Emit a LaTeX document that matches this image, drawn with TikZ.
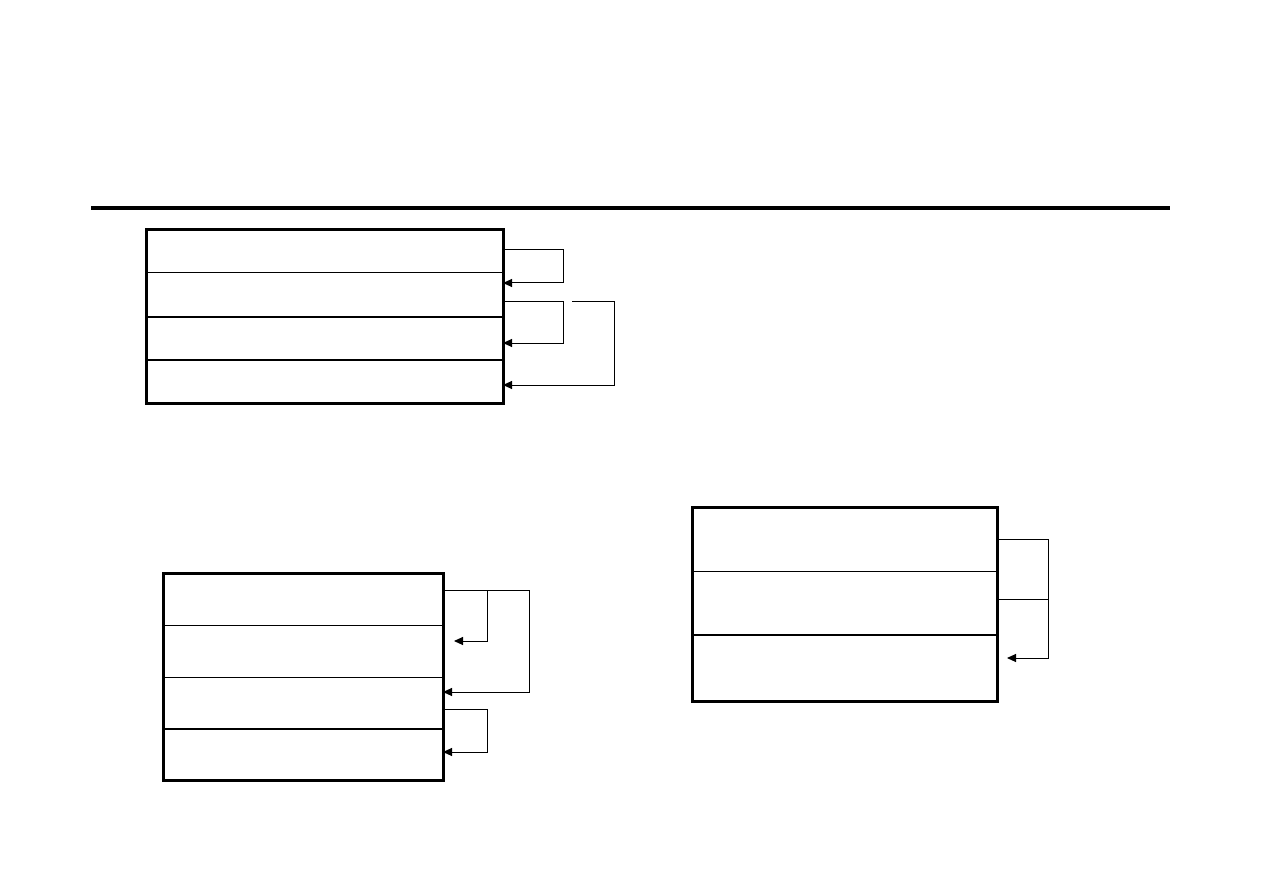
\documentclass[tikz,border=0pt]{standalone}
\usetikzlibrary{arrows.meta}
\begin{document}
\begin{tikzpicture}[x=1pt,y=-1pt,
  frame/.style={line width=3pt},
  thinrule/.style={line width=1pt},
  midrule/.style={line width=2pt},
  link/.style={line width=1pt},
  arr/.style={link,-{Triangle[length=9pt,width=8pt]}},
  row/.style={inner sep=0pt,outer sep=0pt,anchor=north west}]
\useasboundingbox (0,0) rectangle (1263,893);
% top rule
\draw[line width=4pt] (91,208) -- (1170,208);

% ---------- box A ----------
\node[row,minimum width=357pt,minimum height=43pt] (a1) at (146,230) {};
\node[row,minimum width=357pt,minimum height=44pt] (a2) at (146,273) {};
\node[row,minimum width=357pt,minimum height=43pt] (a3) at (146,317) {};
\node[row,minimum width=357pt,minimum height=43pt] (a4) at (146,360) {};
\draw[thinrule] (a1.south west) -- (a1.south east);
\draw[midrule] (a2.south west) -- (a2.south east);
\draw[midrule] (a3.south west) -- (a3.south east);
\draw[frame] (a1.north west) rectangle (a4.south east);
\coordinate (aS1) at (503,250);
\coordinate (aE1) at (503,283);
\coordinate (aS2) at (503,301);
\coordinate (aE2) at (503,343);
\coordinate (aS3) at (572,301);
\coordinate (aE3) at (503,385);
\draw[arr] (aS1) -- (563,250) -- (563,283) -- (aE1);
\draw[arr] (aS2) -- (563,301) -- (563,343) -- (aE2);
\draw[arr] (aS3) -- (614,301) -- (614,385) -- (aE3);

% ---------- box B ----------
\node[row,minimum width=280pt,minimum height=52pt] (b1) at (163,573) {};
\node[row,minimum width=280pt,minimum height=52pt] (b2) at (163,625) {};
\node[row,minimum width=280pt,minimum height=52pt] (b3) at (163,677) {};
\node[row,minimum width=280pt,minimum height=51pt] (b4) at (163,729) {};
\draw[thinrule] (b1.south west) -- (b1.south east);
\draw[thinrule] (b2.south west) -- (b2.south east);
\draw[midrule] (b3.south west) -- (b3.south east);
\draw[frame] (b1.north west) rectangle (b4.south east);
\coordinate (bS1) at (443,590);
\coordinate (bBr) at (487,590);
\coordinate (bE1) at (454,641);
\coordinate (bE2) at (443,692);
\coordinate (bS3) at (443,709);
\coordinate (bE3) at (443,752);
\draw[link] (bS1) -- (529,590);
\draw[arr] (bBr) -- (487,641) -- (bE1);
\draw[arr] (529,590) -- (529,692) -- (bE2);
\draw[arr] (bS3) -- (487,709) -- (487,752) -- (bE3);

% ---------- box C ----------
\node[row,minimum width=305pt,minimum height=64pt] (c1) at (692,507) {};
\node[row,minimum width=305pt,minimum height=64pt] (c2) at (692,571) {};
\node[row,minimum width=305pt,minimum height=66pt] (c3) at (692,635) {};
\draw[thinrule] (c1.south west) -- (c1.south east);
\draw[midrule] (c2.south west) -- (c2.south east);
\draw[frame] (c1.north west) rectangle (c3.south east);
\coordinate (cS1) at (997,539);
\coordinate (cS2) at (997,599);
\coordinate (cE) at (1007,658);
\draw[arr] (cS1) -- (1048,539) -- (1048,658) -- (cE);
\draw[link] (cS2) -- (1048,599);
\end{tikzpicture}
\end{document}
